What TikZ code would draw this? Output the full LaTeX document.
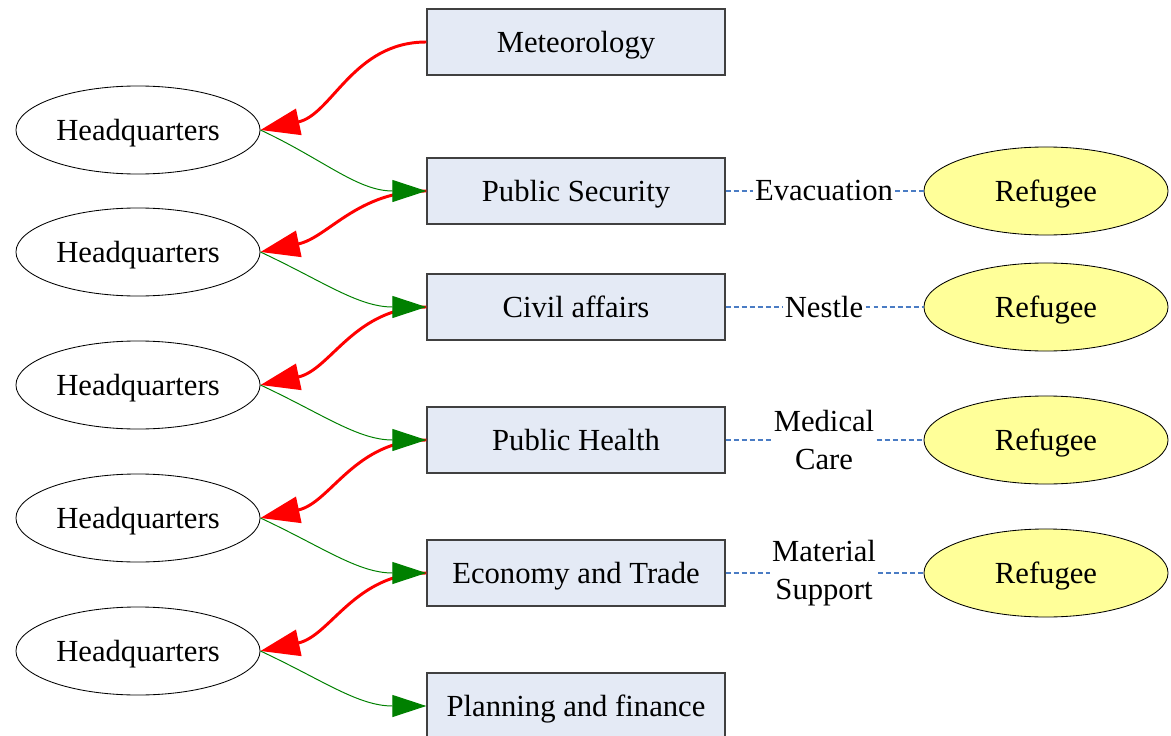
\documentclass[tikz,border=0pt]{standalone}
\usepackage{fontspec}
\setmainfont{Liberation Serif}
\usepackage{tikz}
\usetikzlibrary{shapes.geometric,arrows.meta,positioning}
\definecolor{boxfill}{HTML}{E4EAF5}
\definecolor{reffill}{HTML}{FFFF99}
\definecolor{linkblue}{HTML}{4A7CC4}
\definecolor{darkgreen}{HTML}{008000}
\tikzset{
  dept/.style={draw=black!75, fill=boxfill, line width=0.9pt, minimum width=7.45cm, minimum height=1.65cm, inner sep=0pt, text height=20pt, text depth=5pt},
  hq/.style={draw, ellipse, line width=0.6pt, minimum width=6.1cm, minimum height=2.2cm, inner sep=0pt, text height=20pt, text depth=5pt},
  refugee/.style={draw, ellipse, fill=reffill, line width=0.6pt, minimum width=6.1cm, minimum height=2.2cm, inner sep=0pt, text height=20pt, text depth=5pt},
  task/.style={fill=white, inner sep=1.5pt, align=center, font=\fontsize{21.8}{26.5}\selectfont},
  report/.style={red, line width=2.1pt, -{Triangle[length=0.98cm,width=0.66cm]}},
  order/.style={darkgreen, line width=0.7pt, -{Triangle[length=0.85cm,width=0.55cm]}},
  link/.style={linkblue, line width=1pt, dash pattern=on 3.5pt off 2.2pt}
}

\begin{document}
\begin{tikzpicture}[x=0.025cm, y=-0.025cm, font=\fontsize{21.8}{26}\selectfont]
    \useasboundingbox (0,0) rectangle (1171,736);
    % departments
    \node [dept] (met) at (576,42) {Meteorology};
    \node [dept] (sec) at (576,191) {Public Security};
    \node [dept] (civ) at (576,307) {Civil affairs};
    \node [dept] (hea) at (576,440) {Public Health};
    \node [dept] (eco) at (576,573) {Economy and Trade};
    \node [dept] (pla) at (576,706) {Planning and finance};
    % headquarters
    \node [hq] (hq1) at (138,130) {Headquarters};
    \node [hq] (hq2) at (138,252) {Headquarters};
    \node [hq] (hq3) at (138,385) {Headquarters};
    \node [hq] (hq4) at (138,518) {Headquarters};
    \node [hq] (hq5) at (138,651) {Headquarters};
    % refugees
    \node [refugee] (ref1) at (1046,191) {Refugee};
    \node [refugee] (ref2) at (1046,307) {Refugee};
    \node [refugee] (ref3) at (1046,440) {Refugee};
    \node [refugee] (ref4) at (1046,573) {Refugee};
    % tasks
    \node [task] (evac) at (824,191) {Evacuation};
    \node [task] (nest) at (824,307) {Nestle};
    \node [task] (med) at (824,440) {Medical\\Care};
    \node [task] (mat) at (824,573) {Material\\Support};

    \draw [report] (met.west) to[out=180,in=12] (hq1.east);
    \draw [report] (sec.west) to[out=180,in=12] (hq2.east);
    \draw [report] (civ.west) to[out=180,in=12] (hq3.east);
    \draw [report] (hea.west) to[out=180,in=12] (hq4.east);
    \draw [report] (eco.west) to[out=180,in=12] (hq5.east);

    \draw [order] (hq1.east) to[out=-25,in=180] (sec.west);
    \draw [order] (hq2.east) to[out=-25,in=180] (civ.west);
    \draw [order] (hq3.east) to[out=-25,in=180] (hea.west);
    \draw [order] (hq4.east) to[out=-25,in=180] (eco.west);
    \draw [order] (hq5.east) to[out=-25,in=180] (pla.west);

    \draw [link] (sec.east) -- (evac) -- (ref1.west);
    \draw [link] (civ.east) -- (nest) -- (ref2.west);
    \draw [link] (hea.east) -- (med) -- (ref3.west);
    \draw [link] (eco.east) -- (mat) -- (ref4.west);
\end{tikzpicture}
\end{document}
